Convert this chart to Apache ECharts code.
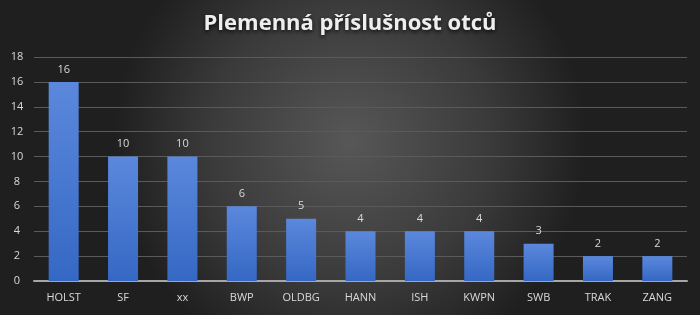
<!DOCTYPE html>
<html><head><meta charset="utf-8">
<script src="https://cdn.jsdelivr.net/npm/echarts@6/dist/echarts.min.js"></script>
<style>html,body{margin:0;padding:0;}#c{width:700px;height:315px;}</style>
</head><body><div id="c"></div>
<script>
const categories = ['HOLST','SF','xx','BWP','OLDBG','HANN','ISH','KWPN','SWB','TRAK','ZANG'];
const values = [16,10,10,6,5,4,4,4,3,2,2];
const yTicks = [0,2,4,6,8,10,12,14,16,18];
const titleText = 'Plemenná příslušnost otců';

const chart = echarts.init(document.getElementById('c'), null, {renderer:'canvas'});
chart.setOption({
  backgroundColor: {type:'radial', x:0.5, y:0.45, r:0.75, colorStops:[
    {offset:0, color:'#575757'},{offset:0.6,color:'#3a3a3a'},{offset:1,color:'#1f1f1f'}]},
  title: {text: titleText, left:'center', top:8,
    textStyle:{color:'#eeeeee', fontSize:22, fontWeight:'bold', fontFamily:'Open Sans',
      textShadowColor:'rgba(0,0,0,0.8)', textShadowBlur:4, textShadowOffsetY:2}},
  grid: {left:34, right:13, top:57, bottom:34, containLabel:false},
  xAxis: {type:'category', data:categories,
    axisLine:{lineStyle:{color:'#a6a6a6', width:2}}, axisTick:{show:false},
    axisLabel:{color:'#d9d9d9', fontSize:11, fontFamily:'Open Sans', margin:11}},
  yAxis: {type:'value', min:yTicks[0], max:yTicks[yTicks.length-1], interval:2,
    axisLine:{show:false}, axisTick:{show:false},
    axisLabel:{color:'#d9d9d9', fontSize:11, fontFamily:'Open Sans', margin:17, align:'center'},
    splitLine:{lineStyle:{color:'#5a5a5a', width:1}}},
  series: [{type:'bar', data:values, barWidth:30,
    itemStyle:{color:{type:'linear',x:0,y:0,x2:0,y2:1,colorStops:[
      {offset:0,color:'#5b88dc'},{offset:1,color:'#3568c4'}]}},
    label:{show:true, position:'top', distance:7, color:'#d9d9d9', fontSize:11, fontFamily:'Open Sans'}}]
});
</script></body></html>
